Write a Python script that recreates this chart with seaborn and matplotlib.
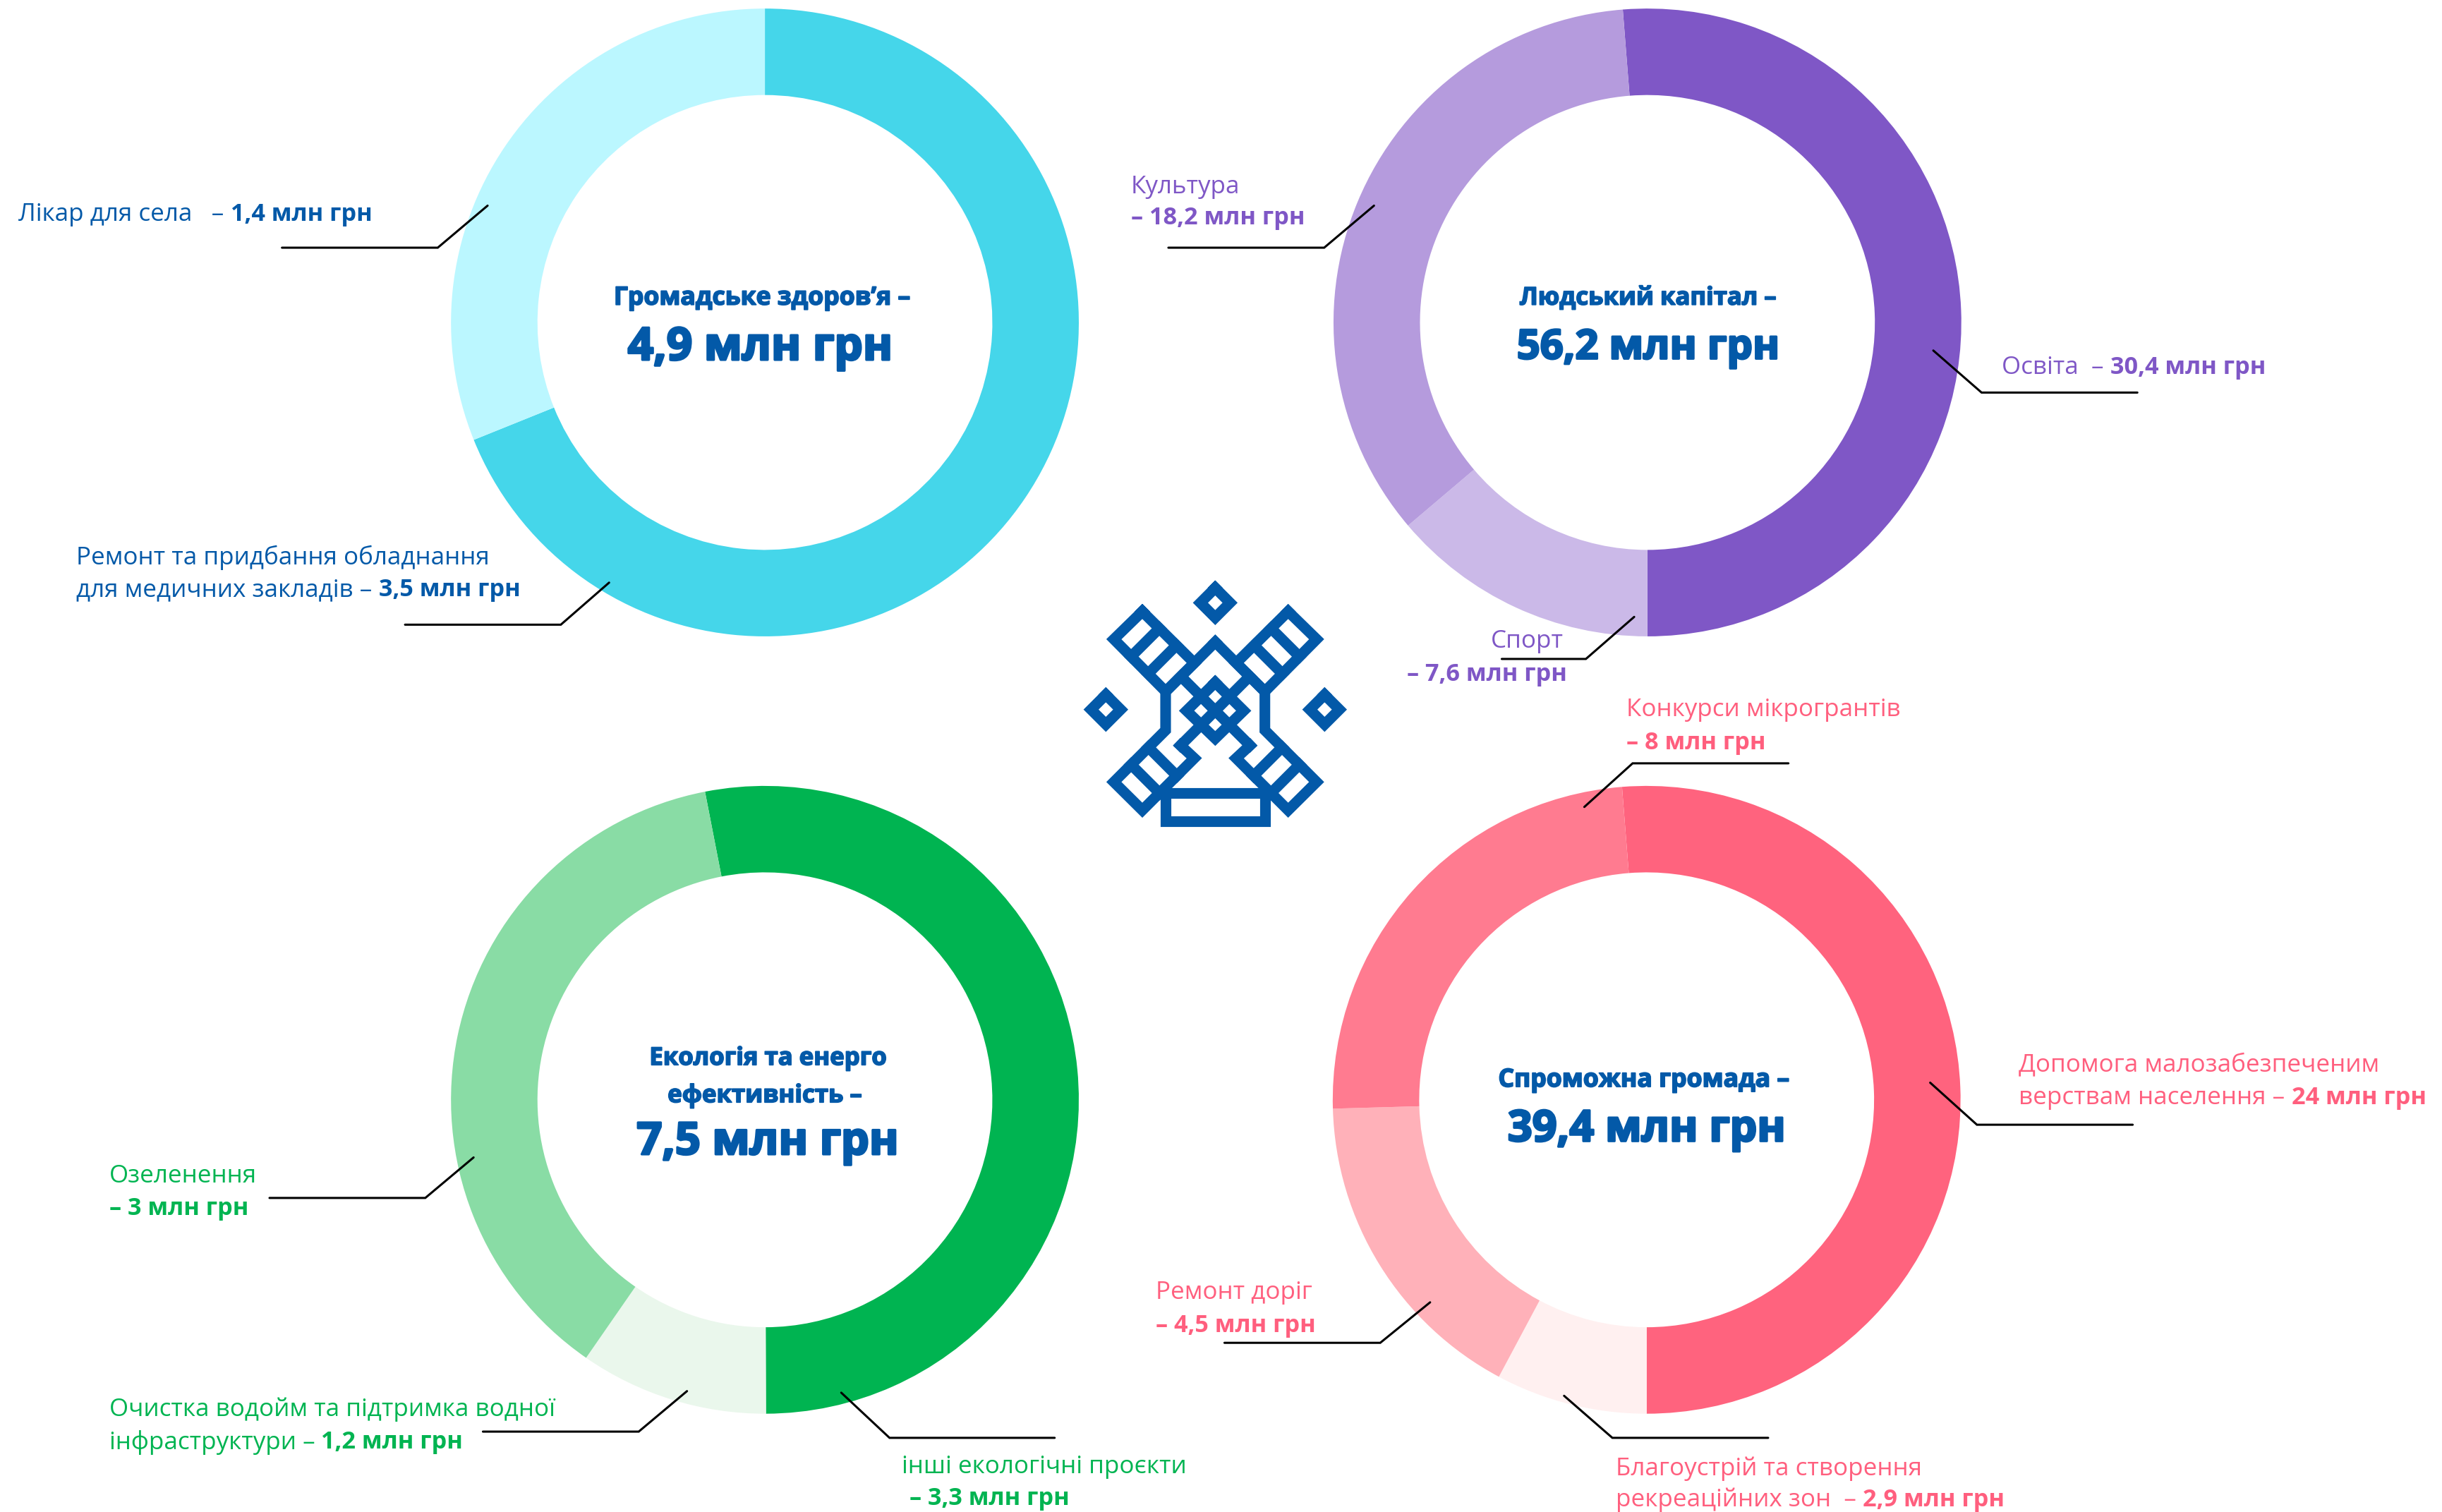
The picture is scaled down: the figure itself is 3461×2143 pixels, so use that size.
import matplotlib
matplotlib.use("Agg")
import matplotlib.pyplot as plt
import matplotlib.patheffects as pe
import seaborn as sns

sns.set_theme(style="white")
plt.rcParams['font.family'] = ['Open Sans', 'DejaVu Sans']

W, H = 3462, 2143
S = 3462 / 1568

# slice shares, as seen on the picture (%)
health_shares = [68.9, 31.1]
human_shares = [51.25, 13.8, 34.95]
eco_shares = [53.0, 9.7, 37.3]
community_shares = [51.25, 7.8, 16.75, 24.2]

health_colors = ['#45D6EA', '#BBF7FF']
human_colors = ['#7F57C6', '#CBB9E8', '#B59BDD']
eco_colors = ['#00B451', '#EAF7EC', '#89DCA5']
community_colors = ['#FF637E', '#FFF0F0', '#FFB1B9', '#FF7B90']

BLUE = '#0359A8'
PURPLE = '#7F57C6'
GREEN = '#00B451'
PINK = '#FF5F7E'

# donuts: shares, colours, start angle, centre
donuts = [
    (health_shares, health_colors, 90, 491, 207),
    (human_shares, human_colors, 94.5, 1057.5, 207),
    (eco_shares, eco_colors, 101, 491, 706),
    (community_shares, community_colors, 94.5, 1057, 706),
]

# centre titles: text, x, y, size
titles = [
    ("Громадське здоров’я –", 489, 191.5, 25.6),
    ("4,9 млн грн", 488, 223.5, 46),
    ("Людський капітал –", 1058, 191.5, 25),
    ("56,2 млн грн", 1058, 223.5, 41.6),
    ("Екологія та енерго", 493, 679.5, 25),
    ("ефективність –", 491, 703.5, 25),
    ("7,5 млн грн", 493, 733.5, 45.5),
    ("Спроможна громада –", 1055, 693.5, 25.6),
    ("39,4 млн грн", 1057, 725.5, 44),
]

# labels: x, y, regular part, bold part, colour
labels = [
    (12, 136, "Лікар для села   – ", "1,4 млн грн", BLUE),
    (49, 356, "Ремонт та придбання обладнання", "", BLUE),
    (49, 377, "для медичних закладів – ", "3,5 млн грн", BLUE),
    (726, 118, "Культура", "", PURPLE),
    (726, 138, "", "– 18,2 млн грн", PURPLE),
    (1285, 234, "Освіта  – ", "30,4 млн грн", PURPLE),
    (957, 410, "Спорт", "", PURPLE),
    (903, 431, "", "– 7,6 млн грн", PURPLE),
    (70, 753, "Озеленення", "", GREEN),
    (70, 774, "", "– 3 млн грн", GREEN),
    (70, 903, "Очистка водойм та підтримка водної", "", GREEN),
    (70, 924, "інфраструктури – ", "1,2 млн грн", GREEN),
    (579, 940, "інші екологічні проєкти", "", GREEN),
    (584, 960, "", "– 3,3 млн грн", GREEN),
    (1044, 454, "Конкурси мікрогрантів", "", PINK),
    (1044, 475, "", "– 8 млн грн", PINK),
    (1296, 682, "Допомога малозабезпеченим", "", PINK),
    (1296, 703, "верствам населення – ", "24 млн грн", PINK),
    (742, 828, "Ремонт доріг", "", PINK),
    (742, 849, "", "– 4,5 млн грн", PINK),
    (1037, 941, "Благоустрій та створення", "", PINK),
    (1037, 961, "рекреаційних зон  – ", "2,9 млн грн", PINK),
]

# leader lines
leaders = [
    [(181, 159), (281, 159), (313, 132)],
    [(260, 401), (360, 401), (391, 374)],
    [(750, 159), (850, 159), (882, 132)],
    [(1372, 252), (1272, 252), (1241, 225)],
    [(964, 423), (1018, 423), (1049, 396)],
    [(173, 769), (273, 769), (304, 743)],
    [(310, 919), (410, 919), (441, 893)],
    [(677, 923), (571, 923), (540, 894)],
    [(1148, 490), (1048, 490), (1017, 518)],
    [(1369, 722), (1269, 722), (1239, 695)],
    [(786, 862), (886, 862), (918, 836)],
    [(1135, 923), (1035, 923), (1004, 896)],
]

# windmill logo, centre lines in px of a 450 px crop x3, left half only
logo_left = [
    [(357, 260), (236, 378), (456, 600), (578, 479), (357, 260)],
    [(429, 332), (309.5, 451.5)],
    [(501.5, 404.5), (382, 524)],
    [(667, 390), (456, 601), (456, 765), (236, 985), (357, 1105), (578, 884), (519.5, 829.5)],
    [(309.5, 911.5), (430, 1032)],
    [(383, 838), (503.5, 958.5)],
]
logo_cross = [
    [(521, 536), (814.5, 829.5)],
    [(813, 536), (519.5, 829.5)],
    [(667, 562), (788, 682), (667, 800), (545, 682), (667, 562)],
    [(456, 1033), (878, 1033), (878, 1151), (456, 1151), (456, 1033)],
]
logo_diamonds = [(667, 223), (202, 677), (1132, 677)]

fig = plt.figure(figsize=(W / 100, H / 100), dpi=100, facecolor='white')
ax = fig.add_axes([0, 0, 1, 1])

for shares, colors, start, cx, cy in donuts:
    ax.pie(shares, colors=colors, startangle=start, counterclock=False,
           center=(cx * S, H - cy * S), radius=201.5 * S,
           wedgeprops=dict(width=55.5 * S, linewidth=0))

ax.set_xlim(0, W)
ax.set_ylim(0, H)
ax.set_aspect('equal')
ax.axis('off')


def logo_line(pts, lw=10.9):
    xs = [1500 + p[0] / 3 for p in pts]
    ys = [H - (780 + p[1] / 3) for p in pts]
    ax.plot(xs, ys, color='#0359A8', lw=lw, solid_joinstyle='miter', solid_capstyle='projecting')


for pts in logo_left:
    logo_line(pts)
    logo_line([(1334 - x, y) for x, y in pts])
for pts in logo_cross:
    logo_line(pts)
for mx, my in logo_diamonds:
    logo_line([(mx, my - 63), (mx + 63, my), (mx, my + 63), (mx - 63, my), (mx, my - 63)])

for pts in leaders:
    ax.plot([p[0] * S for p in pts], [H - p[1] * S for p in pts], color='black', lw=2.2,
            solid_joinstyle='miter')

# titles are heavier in the original than Open Sans Bold, thicken with a stroke
for text, x, y, size in titles:
    ax.text(x * S, H - y * S, text, ha='center', va='center', fontsize=size, fontweight='bold', color=BLUE,
            path_effects=[pe.withStroke(linewidth=size * 0.05, foreground=BLUE)])

renderer = fig.canvas.get_renderer()
for x, y, reg, bold, color in labels:
    x0 = x * S
    if reg:
        t = ax.text(x0, H - y * S, reg.replace(' ', '\u00a0'), ha='left', va='center_baseline', fontsize=25.2, color=color)
        x0 = t.get_window_extent(renderer).x1
    if bold:
        ax.text(x0, H - y * S, bold, ha='left', va='center_baseline', fontsize=24.7, fontweight='bold', color=color)

fig.savefig('out.png', dpi=100)
